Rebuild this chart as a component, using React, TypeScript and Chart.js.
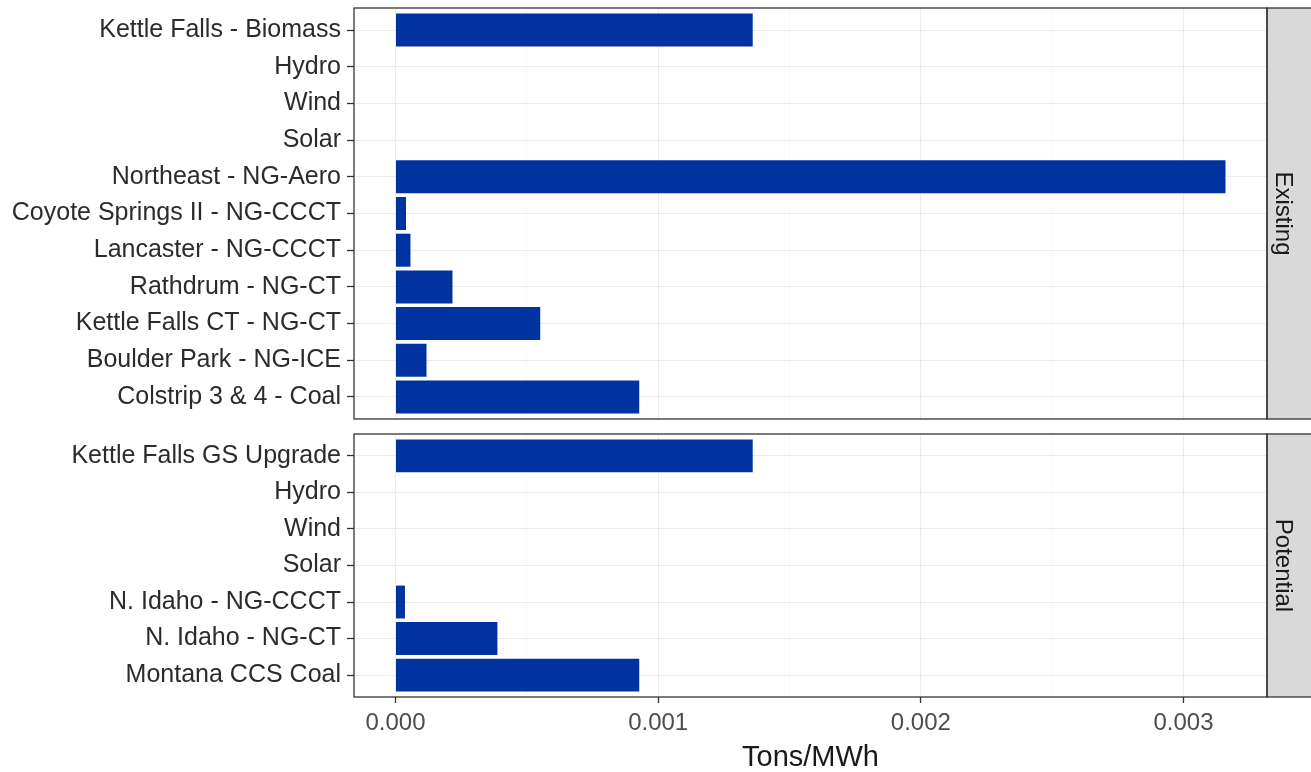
import React, { useEffect, useRef } from "react";
import { Chart, registerables } from "chart.js";
Chart.register(...registerables);

const existingLabels = [
  "Kettle Falls - Biomass",
  "Hydro",
  "Wind",
  "Solar",
  "Northeast - NG-Aero",
  "Coyote Springs II - NG-CCCT",
  "Lancaster - NG-CCCT",
  "Rathdrum - NG-CT",
  "Kettle Falls CT - NG-CT",
  "Boulder Park - NG-ICE",
  "Colstrip 3 & 4 - Coal",
];
const existingValues = [0.00136, 0, 0, 0, 0.00316, 0.00004, 0.000057, 0.000217, 0.000551, 0.000118, 0.000928];

const potentialLabels = [
  "Kettle Falls GS Upgrade",
  "Hydro",
  "Wind",
  "Solar",
  "N. Idaho - NG-CCCT",
  "N. Idaho - NG-CT",
  "Montana CCS Coal",
];
const potentialValues = [0.00136, 0, 0, 0, 0.000036, 0.000388, 0.000928];

const xMajorTicks = [0, 0.001, 0.002, 0.003];
const xMajorLabels = ["0.000", "0.001", "0.002", "0.003"];
const xMinorTicks = [0.0005, 0.0015, 0.0025];
const facetNames = ["Existing", "Potential"];
const xTitle = "Tons/MWh";

const BAR_COLOR = "#0033a0";
const FONT = "'Liberation Sans', Arial, sans-serif";

const allValues = [...existingValues, ...potentialValues];
const dataMax = Math.max(...allValues);
const X_MIN = -0.05 * dataMax;
const X_MAX = dataMax * 1.05;

const isMajor = (v: number) => xMajorTicks.some((t) => Math.abs(t - v) < 1e-9);

function makeConfig(labels: string[], values: number[], facet: string, showX: boolean, padTop: number, xHeight: number): any {
  const n = labels.length;
  const panelPlugin = {
    id: "panel" + facet,
    afterDraw(chart: any) {
      const { ctx, chartArea } = chart;
      const { left, right, top, bottom } = chartArea;
      ctx.save();
      ctx.fillStyle = "#d9d9d9";
      ctx.fillRect(right, top, chart.width - right + 5, bottom - top);
      ctx.strokeStyle = "#333333";
      ctx.lineWidth = 1.3;
      ctx.strokeRect(right, top, chart.width - right + 5, bottom - top);
      ctx.strokeRect(left, top, right - left, bottom - top);
      ctx.translate(right + 16, (top + bottom) / 2);
      ctx.rotate(Math.PI / 2);
      ctx.fillStyle = "#1a1a1a";
      ctx.font = `24px ${FONT}`;
      ctx.textAlign = "center";
      ctx.textBaseline = "middle";
      ctx.fillText(facet, 0, 0);
      ctx.restore();
    },
  };
  return {
    type: "bar",
    data: {
      datasets: [
        {
          data: values.map((v, i) => ({ x: v, y: i })),
          backgroundColor: BAR_COLOR,
          borderWidth: 0,
          barPercentage: 0.9,
          categoryPercentage: 1,
        },
      ],
    },
    options: {
      indexAxis: "y",
      responsive: false,
      animation: false,
      devicePixelRatio: 1,
      layout: { padding: { top: padTop, right: 44, left: 0, bottom: 0 } },
      plugins: { legend: { display: false }, tooltip: { enabled: false } },
      scales: {
        y: {
          type: "linear",
          reverse: true,
          offset: false,
          min: -0.6,
          max: n - 0.4,
          afterBuildTicks: (scale: any) => {
            scale.ticks = labels.map((_, i) => ({ value: i }));
          },
          afterFit: (scale: any) => {
            scale.width = 354;
            scale.paddingTop = 0;
            scale.paddingBottom = 0;
          },
          ticks: {
            autoSkip: false,
            padding: 6,
            color: "#2b2b2b",
            font: { family: FONT, size: 25 },
            callback: (v: number) => labels[Math.round(v)] ?? "",
          },
          grid: {
            offset: false,
            color: "#ebebeb",
            lineWidth: 1,
            tickColor: "#333333",
            tickWidth: 1.3,
            tickLength: 7,
            drawTicks: true,
          },
          border: { display: false },
        },
        x: {
          type: "linear",
          min: X_MIN,
          max: X_MAX,
          afterBuildTicks: (scale: any) => {
            scale.ticks = [...xMajorTicks, ...xMinorTicks].sort((a, b) => a - b).map((v) => ({ value: v }));
          },
          afterFit: (scale: any) => {
            scale.height = xHeight;
            scale.paddingLeft = 0;
            scale.paddingRight = 0;
          },
          ticks: {
            display: showX,
            autoSkip: false,
            maxRotation: 0,
            padding: 6,
            color: "#4d4d4d",
            font: { family: FONT, size: 24 },
            callback: (v: number) => {
              const idx = xMajorTicks.findIndex((t) => Math.abs(t - v) < 1e-9);
              return idx >= 0 ? xMajorLabels[idx] : "";
            },
          },
          grid: {
            color: (c: any) => (c.tick && isMajor(c.tick.value) ? "#ebebeb" : "#f4f4f4"),
            lineWidth: (c: any) => (c.tick && isMajor(c.tick.value) ? 1 : 0.6),
            tickColor: (c: any) => (c.tick && isMajor(c.tick.value) ? "#333333" : "rgba(0,0,0,0)"),
            tickWidth: 1.3,
            tickLength: 6,
            drawTicks: showX,
          },
          border: { display: false },
          title: {
            display: showX,
            text: xTitle,
            color: "#1a1a1a",
            font: { family: FONT, size: 29, lineHeight: 1 },
            padding: { top: 0, bottom: 0 },
          },
        },
      },
    },
    plugins: [panelPlugin],
  };
}

function Panel(props: { labels: string[]; values: number[]; facet: string; showX: boolean; top: number; height: number; padTop: number; xHeight: number }) {
  const ref = useRef<HTMLCanvasElement>(null);
  useEffect(() => {
    if (!ref.current) return;
    const chart = new Chart(ref.current, makeConfig(props.labels, props.values, props.facet, props.showX, props.padTop, props.xHeight));
    return () => chart.destroy();
  }, []);
  return (
    <canvas
      ref={ref}
      width={1311}
      height={props.height}
      style={{ position: "absolute", left: 0, top: props.top, width: 1311, height: props.height, display: "block" }}
    />
  );
}

export default function App() {
  return (
    <div style={{ position: "absolute", left: 0, top: 0, width: 1311, height: 772, background: "#ffffff", overflow: "hidden" }}>
      <Panel labels={existingLabels} values={existingValues} facet={facetNames[0]} showX={false} top={0} height={430} padTop={8} xHeight={11} />
      <Panel labels={potentialLabels} values={potentialValues} facet={facetNames[1]} showX={true} top={420} height={352} padTop={14} xHeight={75} />
    </div>
  );
}
